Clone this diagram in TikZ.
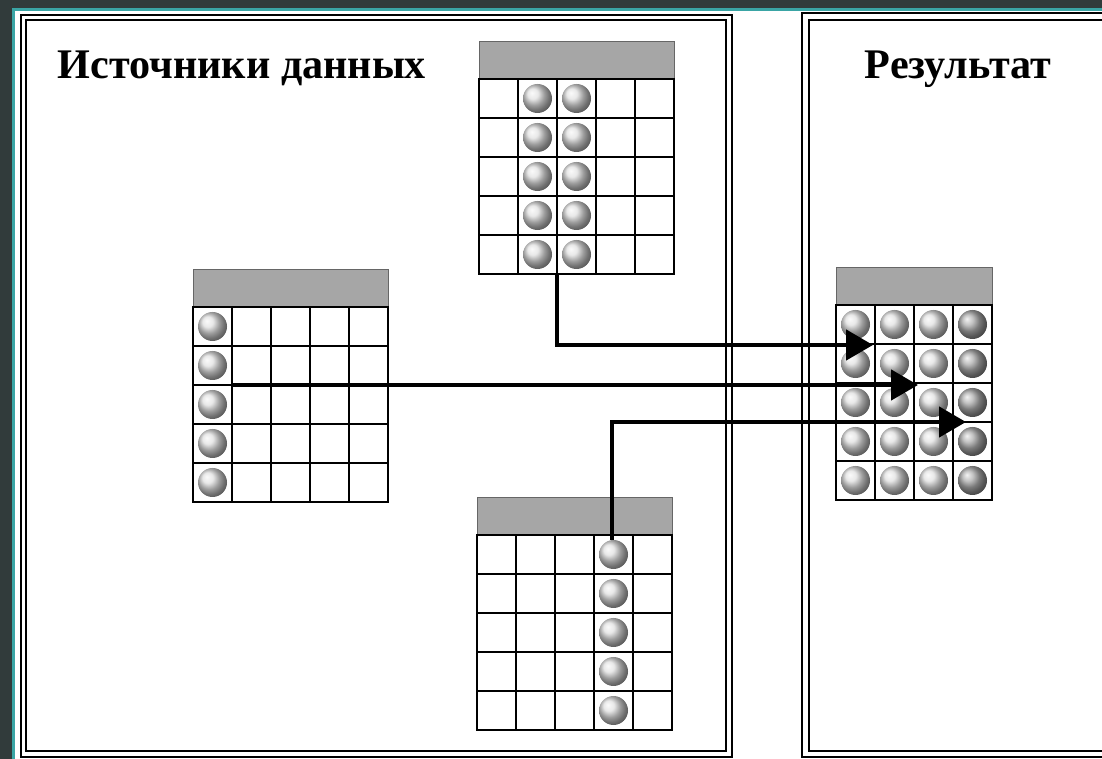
\documentclass[tikz,border=0pt]{standalone}
\usepackage{fontspec}
\setmainfont{Liberation Serif}
\usetikzlibrary{arrows.meta}
\definecolor{bgc}{RGB}{49,59,59}
\definecolor{tealc}{RGB}{58,165,165}
\definecolor{headc}{RGB}{166,166,166}

\begin{document}
\begin{tikzpicture}[x=0.02cm, y=-0.02cm,
  panel/.style={draw=black, line width=1.1pt},
  cell/.style={draw=black, line width=1pt},
  headbar/.style={fill=headc, draw=black!60, line width=0.5pt},
  lightball/.style={ball color=black!12},
  darkball/.style={ball color=black!32},
  flow/.style={draw=black, line width=2.7pt, -{Triangle[length=0.54cm,width=0.6cm]}},
  paneltitle/.style={font=\bfseries\fontsize{24}{28}\selectfont, inner sep=0pt},
]
\useasboundingbox (0,0) rectangle (1102,759);
% ---------- backdrop ----------
\fill[bgc] (0,0) rectangle (1102,759);
\fill[tealc] (12,8) rectangle (1102,759);
\fill[white] (15,11) rectangle (1102,759);
% ---------- panels (double border) ----------
\draw[panel] (21,15) rectangle (732,757);
\draw[panel] (26,20) rectangle (726,751);
\draw[panel] (802,13) rectangle (1110,757);
\draw[panel] (809,20) rectangle (1110,751);
\node[paneltitle, anchor=base] (srctitle) at (242,79) {Источники данных};
\node[paneltitle, anchor=base] (restitle) at (958,79) {Результат};
% ---------- tables: header + 5 rows, cell 39 ----------
\foreach \tx/\ty/\nc in {479/41/5, 193/269/5, 477/497/5, 836/267/4} {
  \draw[headbar] (\tx,\ty) rectangle ({\tx+\nc*39},{\ty+38});
  \foreach \c in {1,...,\nc}
    \foreach \r in {1,...,5}
      \draw[cell] ({\tx+(\c-1)*39},{\ty+38+(\r-1)*39}) rectangle ++(39,39);
}
% ---------- selected columns in the sources ----------
\foreach \tx/\ty/\c in {479/41/2, 479/41/3, 193/269/1, 477/497/4}
  \foreach \r in {1,...,5}
    \shade[lightball] ({\tx+(\c-0.5)*39},{\ty+38+(\r-0.5)*39}) circle (14.5);
% ---------- result table, all filled ----------
\foreach \c in {1,2,3}
  \foreach \r in {1,...,5}
    \shade[lightball] ({836+(\c-0.5)*39},{305+(\r-0.5)*39}) circle (14.5);
\foreach \r in {1,...,5}
  \shade[darkball] ({836+3.5*39},{305+(\r-0.5)*39}) circle (14.5);
% ---------- links ----------
\coordinate (topsrc)  at (557,275);
\coordinate (topdst)  at (873,345);
\coordinate (leftsrc) at (232,385);
\coordinate (leftdst) at (918,385);
\coordinate (botsrc)  at (612,540);
\coordinate (botdst)  at (966,422);
\draw[flow] (topsrc) |- (topdst);
\draw[flow] (leftsrc) -- (leftdst);
\draw[flow] (botsrc) |- (botdst);
\end{tikzpicture}
\end{document}
